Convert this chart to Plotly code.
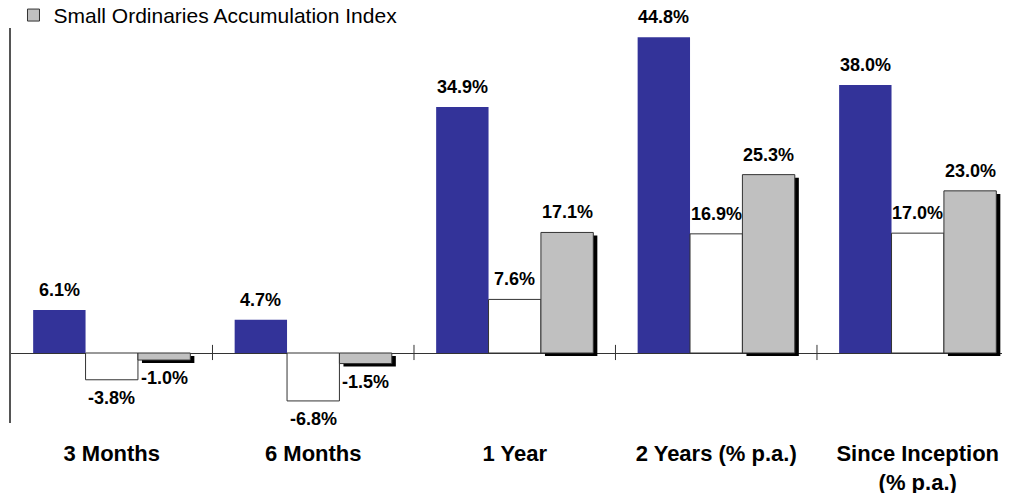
import plotly.graph_objects as go

# ---- data ----
categories = ["3 Months", "6 Months", "1 Year", "2 Years (% p.a.)", "Since Inception<br>(% p.a.)"]
fund = [6.1, 4.7, 34.9, 44.8, 38.0]
benchmark = [-3.8, -6.8, 7.6, 16.9, 17.0]
small_ords = [-1.0, -1.5, 17.1, 25.3, 23.0]
series_names = ["Fund", "Benchmark", "Small Ordinaries Accumulation Index"]

# ---- style ----
BLUE = "#333399"
GREY = "#C0C0C0"
EDGE = "#333333"
FONT = "Liberation Sans, Arial, sans-serif"
BAR_W = 0.26
OFFSETS = [-0.39, -0.13, 0.13]
SHADOW_DX = 0.02   # ~4 px
SHADOW_DY = 0.43   # ~3 px

x_idx = list(range(len(categories)))

fig = go.Figure()

fig.add_trace(go.Bar(
    x=categories, y=fund, name=series_names[0], width=BAR_W, offset=OFFSETS[0],
    marker=dict(color=BLUE, line=dict(width=0)), showlegend=False,
))
fig.add_trace(go.Bar(
    x=categories, y=benchmark, name=series_names[1], width=BAR_W, offset=OFFSETS[1],
    marker=dict(color="white", line=dict(color=EDGE, width=1)), showlegend=False,
))
# drop shadow for the grey series
fig.add_trace(go.Bar(
    x=categories, y=small_ords, base=[-SHADOW_DY] * len(small_ords), width=BAR_W,
    offset=OFFSETS[2] + SHADOW_DX, marker=dict(color="black", line=dict(width=0)),
    showlegend=False, hoverinfo="skip",
))
fig.add_trace(go.Bar(
    x=categories, y=small_ords, name=series_names[2], width=BAR_W, offset=OFFSETS[2],
    marker=dict(color=GREY, line=dict(color=EDGE, width=1)), showlegend=True,
))

# value labels
annotations = []
for series, off in zip([fund, benchmark, small_ords], OFFSETS):
    for i, v in zip(x_idx, series):
        pos = v >= 0
        annotations.append(dict(
            x=i + off + BAR_W / 2, y=v, xref="x", yref="y",
            text=f"{v:.1f}%", showarrow=False,
            yanchor="bottom" if pos else "top",
            yshift=8 if pos else -6,
            font=dict(family=FONT, size=18, color="black", weight="bold"),
        ))

# boundary tick marks crossing the zero line
shapes = []
for i in x_idx[:-1]:
    shapes.append(dict(type="line", xref="x", yref="y", x0=i + 0.5, x1=i + 0.5,
                       y0=-1.0, y1=1.15, line=dict(color="#333333", width=1)))

fig.update_layout(
    width=1002, height=485,
    margin=dict(l=3, r=0, t=20, b=70, autoexpand=False),
    paper_bgcolor="white", plot_bgcolor="white",
    barmode="overlay",
    showlegend=True,
    legend=dict(x=0.0025, xanchor="left", y=0.98, yanchor="bottom",
                font=dict(family=FONT, size=21, color="black"),
                bgcolor="rgba(0,0,0,0)", borderwidth=0, tracegroupgap=0),
    annotations=annotations,
    shapes=shapes,
    font=dict(family=FONT, color="black"),
)
fig.update_xaxes(
    type="category", range=[-0.5, 4.458], showline=False, showgrid=False,
    ticks="", ticklabelstandoff=15, automargin=False,
    tickfont=dict(family=FONT, size=22, color="black", weight="bold"),
)
fig.update_yaxes(
    range=[-9.93, 46.1], showgrid=False, showticklabels=False, ticks="",
    showline=True, linecolor="#555555", linewidth=1.5, automargin=False,
    zeroline=True, zerolinecolor="#333333", zerolinewidth=1,
)

fig.write_html("out.html")
